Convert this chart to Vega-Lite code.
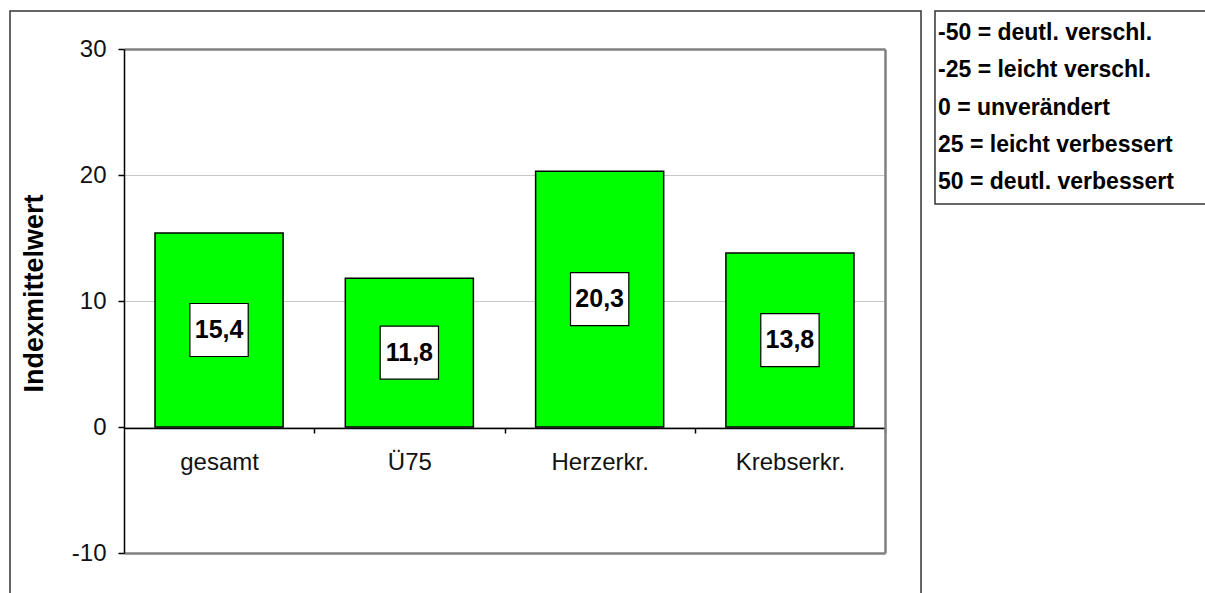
{
  "$schema": "https://vega.github.io/schema/vega-lite/v6.json",
  "padding": {"left": 9, "top": 10, "right": -14, "bottom": -17},
  "background": "#ffffff",
  "spacing": 14,
  "bounds": "flush",
  "config": {
    "font": "Liberation Sans",
    "view": {"stroke": "#333333", "strokeWidth": 1.5},
    "locale": {"number": {"decimal": ",", "thousands": ".", "grouping": [3], "currency": ["", " €"], "minus": "-"}}
  },
  "hconcat": [
    {
      "width": 911,
      "height": 600,
      "data": {"values": [
        {"category": "gesamt", "value": 15.4},
        {"category": "Ü75", "value": 11.8},
        {"category": "Herzerkr.", "value": 20.3},
        {"category": "Krebserkr.", "value": 13.8}
      ]},
      "resolve": {"scale": {"y": "independent"}},
      "layer": [
        {
          "mark": {"type": "bar", "fill": "#00ff00", "stroke": "#000000", "strokeWidth": 1.5},
          "encoding": {
            "x": {
              "field": "category", "type": "nominal", "sort": null,
              "scale": {"range": [114, 875], "paddingInner": 0.327, "paddingOuter": 0.163},
              "axis": {
                "orient": "bottom", "offset": -183, "title": null, "labelAngle": 0,
                "tickOffset": 95.15, "labelOffset": -95.15,
                "domainColor": "#000000", "domainWidth": 1.5,
                "tickColor": "#000000", "tickSize": 5, "tickWidth": 1.5,
                "labelFontSize": 24, "labelColor": "#111111", "labelPadding": 17,
                "labelFont": "Liberation Sans", "grid": false
              }
            },
            "y": {
              "field": "value", "type": "quantitative",
              "scale": {"domain": [-10, 30], "range": [542, 38], "nice": false, "zero": false},
              "axis": {
                "values": [-10, 0, 10, 20, 30], "offset": -114, "orient": "left",
                "title": "Indexmittelwert", "titleFontSize": 27, "titleFontWeight": "bold",
                "titleFont": "Liberation Sans", "titleColor": "#000000",
                "titleX": -90, "titleY": 282, "titleBaseline": "middle",
                "domainColor": "#000000", "domainWidth": 1.5,
                "tickColor": "#000000", "tickSize": 6, "tickWidth": 1.5,
                "labelFontSize": 24, "labelColor": "#111111", "labelPadding": 12,
                "labelFont": "Liberation Sans",
                "grid": true,
                "gridColor": {"condition": {"test": "datum.value === 30 || datum.value === -10", "value": "#808080"}, "value": "#c8c8c8"},
                "gridWidth": {"condition": {"test": "datum.value === 30 || datum.value === -10", "value": 2.5}, "value": 1.2}
              }
            }
          }
        },
        {
          "mark": {"type": "point", "shape": "M-1.1,-1H1.1V1H-1.1Z", "size": 2809, "filled": true, "fill": "#ffffff", "stroke": "#000000", "strokeWidth": 1.2, "opacity": 1},
          "encoding": {
            "x": {"field": "category", "type": "nominal", "sort": null},
            "y": {
              "field": "value", "type": "quantitative",
              "scale": {"domain": [-20, 60], "range": [542, 38], "nice": false, "zero": false},
              "axis": {"orient": "right", "offset": -36, "domainColor": "#808080", "domainWidth": 2.5, "ticks": false, "labels": false, "grid": false, "title": null}
            }
          }
        },
        {
          "mark": {"type": "text", "fontSize": 25, "fontWeight": "bold", "font": "Liberation Sans", "color": "#000000", "baseline": "middle", "align": "center"},
          "encoding": {
            "x": {"field": "category", "type": "nominal", "sort": null},
            "y": {
              "field": "value", "type": "quantitative",
              "scale": {"domain": [-20, 60], "range": [542, 38], "nice": false, "zero": false},
              "axis": null
            },
            "text": {"field": "value", "type": "quantitative", "format": ".1f"}
          }
        }
      ]
    },
    {
      "width": 400,
      "height": 193,
      "data": {"values": [
        {"text": "-50 =  deutl. verschl."},
        {"text": "-25 = leicht verschl."},
        {"text": "0 =  unverändert"},
        {"text": "25 = leicht verbessert"},
        {"text": "50 =  deutl. verbessert"}
      ]},
      "mark": {"type": "text", "align": "left", "baseline": "middle", "fontSize": 23, "fontWeight": "bold", "font": "Liberation Sans", "dx": 3, "color": "#000000"},
      "encoding": {
        "y": {"field": "text", "type": "nominal", "sort": null, "axis": null, "scale": {"padding": 0.6}},
        "x": {"datum": 0, "type": "quantitative", "scale": {"domain": [0, 1]}, "axis": null},
        "text": {"field": "text", "type": "nominal"}
      }
    }
  ]
}
